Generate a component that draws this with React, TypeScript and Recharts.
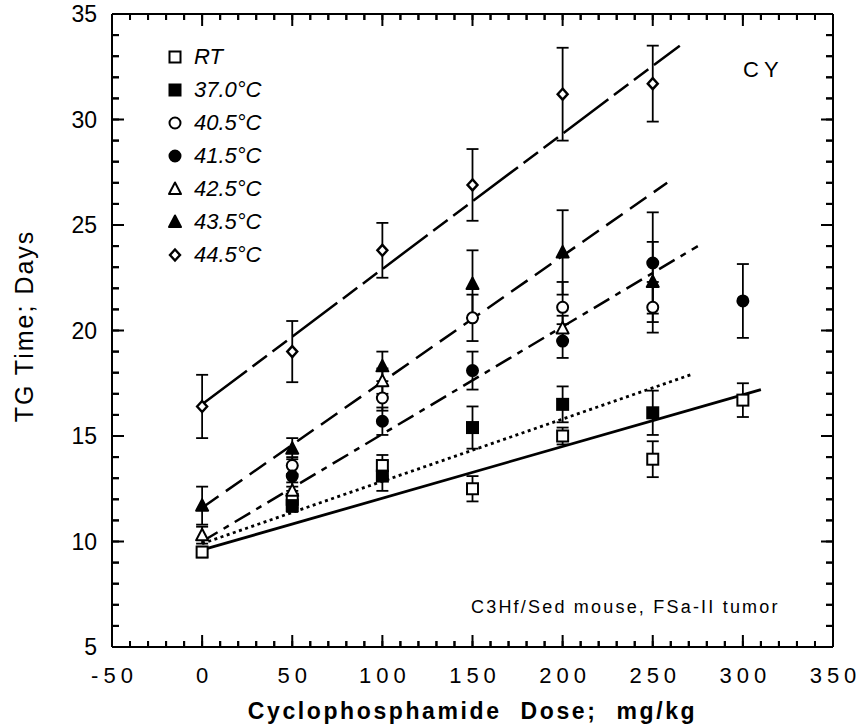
import React from "react";
import { ComposedChart, Scatter, Line, XAxis, YAxis, ErrorBar } from "recharts";

const FONT = "'Liberation Sans', Arial, Helvetica, sans-serif";

// axis ticks (minor every 10 mg/kg and every 1 day, labels on the majors)
const X_TICKS = [
  -50, -40, -30, -20, -10, 0, 10, 20, 30, 40, 50, 60, 70, 80, 90, 100, 110, 120, 130, 140, 150,
  160, 170, 180, 190, 200, 210, 220, 230, 240, 250, 260, 270, 280, 290, 300, 310, 320, 330, 340, 350,
];
const Y_TICKS = [
  5, 6, 7, 8, 9, 10, 11, 12, 13, 14, 15, 16, 17, 18, 19, 20, 21, 22, 23, 24, 25, 26, 27, 28, 29, 30,
  31, 32, 33, 34, 35,
];

// measured points: dose (mg/kg), TG time (days), +/- error
const RT = [
  { dose: 0, tg: 9.5, err: 0.25 },
  { dose: 50, tg: 12.0, err: 0.4 },
  { dose: 100, tg: 13.6, err: 0.5 },
  { dose: 150, tg: 12.5, err: 0.6 },
  { dose: 200, tg: 15.0, err: 0.4 },
  { dose: 250, tg: 13.9, err: 0.85 },
  { dose: 300, tg: 16.7, err: 0.8 },
];
const T370 = [
  { dose: 50, tg: 11.7, err: 0.3 },
  { dose: 100, tg: 13.1, err: 0.7 },
  { dose: 150, tg: 15.4, err: 1.0 },
  { dose: 200, tg: 16.5, err: 0.85 },
  { dose: 250, tg: 16.1, err: 1.05 },
];
const T405 = [
  { dose: 50, tg: 13.6, err: 0.4 },
  { dose: 100, tg: 16.8, err: 0.6 },
  { dose: 150, tg: 20.6, err: 1.1 },
  { dose: 200, tg: 21.1, err: 1.2 },
  { dose: 250, tg: 21.1, err: 1.2 },
];
const T415 = [
  { dose: 50, tg: 13.1, err: 0.5 },
  { dose: 100, tg: 15.7, err: 0.65 },
  { dose: 150, tg: 18.1, err: 0.9 },
  { dose: 200, tg: 19.5, err: 0.8 },
  { dose: 250, tg: 23.2, err: 2.4 },
  { dose: 300, tg: 21.4, err: 1.75 },
];
const T425 = [
  { dose: 0, tg: 10.3, err: 0.4 },
  { dose: 50, tg: 12.4, err: 0.4 },
  { dose: 100, tg: 17.6, err: 0.6 },
  { dose: 200, tg: 20.1, err: 0.6 },
];
const T435 = [
  { dose: 0, tg: 11.7, err: 0.9 },
  { dose: 50, tg: 14.4, err: 0.5 },
  { dose: 100, tg: 18.3, err: 0.7 },
  { dose: 150, tg: 22.2, err: 1.6 },
  { dose: 200, tg: 23.7, err: 2.0 },
  { dose: 250, tg: 22.3, err: 1.9 },
];
const T445 = [
  { dose: 0, tg: 16.4, err: 1.5 },
  { dose: 50, tg: 19.0, err: 1.45 },
  { dose: 100, tg: 23.8, err: 1.3 },
  { dose: 150, tg: 26.9, err: 1.7 },
  { dose: 200, tg: 31.2, err: 2.2 },
  { dose: 250, tg: 31.7, err: 1.8 },
];

// regression lines (end points)
const FIT_TOP = [{ dose: 0, tg: 16.5 }, { dose: 265, tg: 33.5 }];
const FIT_DASH = [{ dose: 0, tg: 11.6 }, { dose: 258, tg: 27.0 }];
const FIT_DASHDOT = [{ dose: 0, tg: 10.0 }, { dose: 275, tg: 24.0 }];
const FIT_DOT = [{ dose: 0, tg: 9.9 }, { dose: 271, tg: 17.9 }];
const FIT_SOLID = [{ dose: 0, tg: 9.6 }, { dose: 310, tg: 17.2 }];

// frame corners, only so the top/right axes get a domain and draw their ticks
const FRAME = [{ dose: -50, tg: 5 }, { dose: 350, tg: 35 }];

const SERIES = [
  { name: "RT", kind: "sqOpen", data: RT },
  { name: "37.0°C", kind: "sqFill", data: T370 },
  { name: "40.5°C", kind: "cirOpen", data: T405 },
  { name: "41.5°C", kind: "cirFill", data: T415 },
  { name: "42.5°C", kind: "triOpen", data: T425 },
  { name: "43.5°C", kind: "triFill", data: T435 },
  { name: "44.5°C", kind: "diaOpen", data: T445 },
];

function Marker({ cx, cy, kind }: { cx: number; cy: number; kind: string }) {
  const open = kind.endsWith("Open");
  const fill = open ? "#fff" : "#000";
  const sw = 2;
  if (kind.startsWith("sq")) {
    return <rect x={cx - 5.5} y={cy - 5.5} width={11} height={11} fill={fill} stroke="#000" strokeWidth={sw} />;
  }
  if (kind.startsWith("cir")) {
    return <circle cx={cx} cy={cy} r={5.5} fill={fill} stroke="#000" strokeWidth={sw} />;
  }
  if (kind.startsWith("tri")) {
    return (
      <polygon
        points={`${cx},${cy - 6.5} ${cx + 6},${cy + 5} ${cx - 6},${cy + 5}`}
        fill={fill}
        stroke="#000"
        strokeWidth={sw}
        strokeLinejoin="round"
      />
    );
  }
  return (
    <polygon
      points={`${cx},${cy - 5.5} ${cx + 5},${cy} ${cx},${cy + 5.5} ${cx - 5},${cy}`}
      fill={fill}
      stroke="#000"
      strokeWidth={2.4}
    />
  );
}

// tick mark drawn as a filled bar, inward from the frame; long on majors
function XTick(props: any) {
  const { x, y, payload, side } = props;
  const v = payload.value as number;
  const major = v % 50 === 0;
  const len = major ? 12 : 6;
  const top = side === "top" ? y : y - len;
  return (
    <g>
      <rect x={x - 1} y={top} width={2} height={len} fill="#000" />
      {side === "bottom" && major && (
        <text x={x + 2.5} y={y + 36} textAnchor="middle" fontFamily={FONT} fontSize={22} letterSpacing={5} fill="#000">
          {v}
        </text>
      )}
    </g>
  );
}

function YTick(props: any) {
  const { x, y, payload, side } = props;
  const v = payload.value as number;
  const major = v % 5 === 0;
  const len = major ? 12 : 7;
  const left = side === "right" ? x - len : x;
  return (
    <g>
      <rect x={left} y={y - 1} width={len} height={2} fill="#000" />
      {side === "left" && major && (
        <text x={x - 15} y={y + 8} textAnchor="end" fontFamily={FONT} fontSize={23} fill="#000">
          {v}
        </text>
      )}
    </g>
  );
}

const LegendBox = () => (
  <div style={{ position: "absolute", left: 166, top: 40, fontFamily: FONT }}>
    {SERIES.map((s) => (
      <div key={s.name} style={{ display: "flex", alignItems: "center", height: 33 }}>
        <svg width={18} height={18} style={{ overflow: "visible" }}>
          <Marker cx={9} cy={9} kind={s.kind} />
        </svg>
        <span style={{ marginLeft: 10, fontStyle: "italic", fontSize: 22, lineHeight: "22px" }}>{s.name}</span>
      </div>
    ))}
  </div>
);

const axisLine = { stroke: "#000", strokeWidth: 2 };
const tickLine = { stroke: "#000", strokeWidth: 2 };

export default function App() {
  return (
    <div style={{ position: "absolute", left: 0, top: 0, width: 863, height: 726, background: "#fff" }}>
      <ComposedChart width={863} height={726} margin={{ top: 13, right: 29, bottom: 78, left: 111 }}>
        <XAxis
          type="number"
          dataKey="dose"
          domain={[-50, 350]}
          ticks={X_TICKS}
          interval={0}
          height={1}
          tickSize={-6}
          tickMargin={6}
          tickLine={tickLine}
          axisLine={axisLine}
          tick={(p: any) => <XTick {...p} side="bottom" />}
        />
        <XAxis
          xAxisId="top"
          orientation="top"
          type="number"
          dataKey="dose"
          domain={[-50, 350]}
          ticks={X_TICKS}
          interval={0}
          height={1}
          tickSize={-6}
          tickMargin={6}
          tickLine={tickLine}
          axisLine={axisLine}
          tick={(p: any) => <XTick {...p} side="top" />}
        />
        <YAxis
          type="number"
          dataKey="tg"
          domain={[5, 35]}
          ticks={Y_TICKS}
          interval={0}
          width={1}
          tickSize={-7}
          tickMargin={7}
          tickLine={tickLine}
          axisLine={axisLine}
          tick={(p: any) => <YTick {...p} side="left" />}
        />
        <YAxis
          yAxisId="right"
          orientation="right"
          type="number"
          dataKey="tg"
          domain={[5, 35]}
          ticks={Y_TICKS}
          interval={0}
          width={1}
          tickSize={-7}
          tickMargin={7}
          tickLine={tickLine}
          axisLine={axisLine}
          tick={(p: any) => <YTick {...p} side="right" />}
        />

        <Scatter data={FRAME} xAxisId="top" yAxisId="right" isAnimationActive={false} shape={() => <g />} />

        <Line data={FIT_TOP} dataKey="tg" stroke="#000" strokeWidth={2.5} strokeDasharray="56 7 18 7 18 7" dot={false} isAnimationActive={false} />
        <Line data={FIT_DASH} dataKey="tg" stroke="#000" strokeWidth={2.5} strokeDasharray="20 9" dot={false} isAnimationActive={false} />
        <Line data={FIT_DASHDOT} dataKey="tg" stroke="#000" strokeWidth={2.5} strokeDasharray="18 7 6 7" dot={false} isAnimationActive={false} />
        <Line data={FIT_DOT} dataKey="tg" stroke="#000" strokeWidth={2.8} strokeDasharray="3 3.5" dot={false} isAnimationActive={false} />
        <Line data={FIT_SOLID} dataKey="tg" stroke="#000" strokeWidth={2.8} dot={false} isAnimationActive={false} />

        {SERIES.map((s) => (
          <Scatter
            key={s.name}
            name={s.name}
            data={s.data}
            isAnimationActive={false}
            shape={(p: any) => <Marker cx={p.cx} cy={p.cy} kind={s.kind} />}
          >
            <ErrorBar dataKey="err" direction="y" width={6} stroke="#000" strokeWidth={1.8} isAnimationActive={false} />
          </Scatter>
        ))}
      </ComposedChart>

      {/* axis titles */}
      <svg width={863} height={726} style={{ position: "absolute", left: 0, top: 0, pointerEvents: "none" }}>
        <text
          x={472.5}
          y={719}
          textAnchor="middle"
          fontFamily={FONT}
          fontWeight="bold"
          fontSize={23}
          letterSpacing={2.6}
          wordSpacing={10}
          fill="#000"
        >
          Cyclophosphamide Dose; mg/kg
        </text>
        <text
          x={0}
          y={0}
          transform="translate(33, 326) rotate(-90)"
          textAnchor="middle"
          fontFamily={FONT}
          fontSize={25}
          letterSpacing={2}
          fill="#000"
        >
          TG Time; Days
        </text>
      </svg>

      <LegendBox />

      <div
        style={{
          position: "absolute",
          left: 743,
          top: 59,
          fontFamily: FONT,
          fontSize: 22,
          lineHeight: "22px",
          letterSpacing: 5,
        }}
      >
        CY
      </div>
      <div
        style={{
          position: "absolute",
          left: 471,
          top: 598,
          fontFamily: FONT,
          fontSize: 18,
          lineHeight: "18px",
          letterSpacing: 2.2,
          whiteSpace: "nowrap",
        }}
      >
        C3Hf/Sed mouse, FSa-II tumor
      </div>
    </div>
  );
}
